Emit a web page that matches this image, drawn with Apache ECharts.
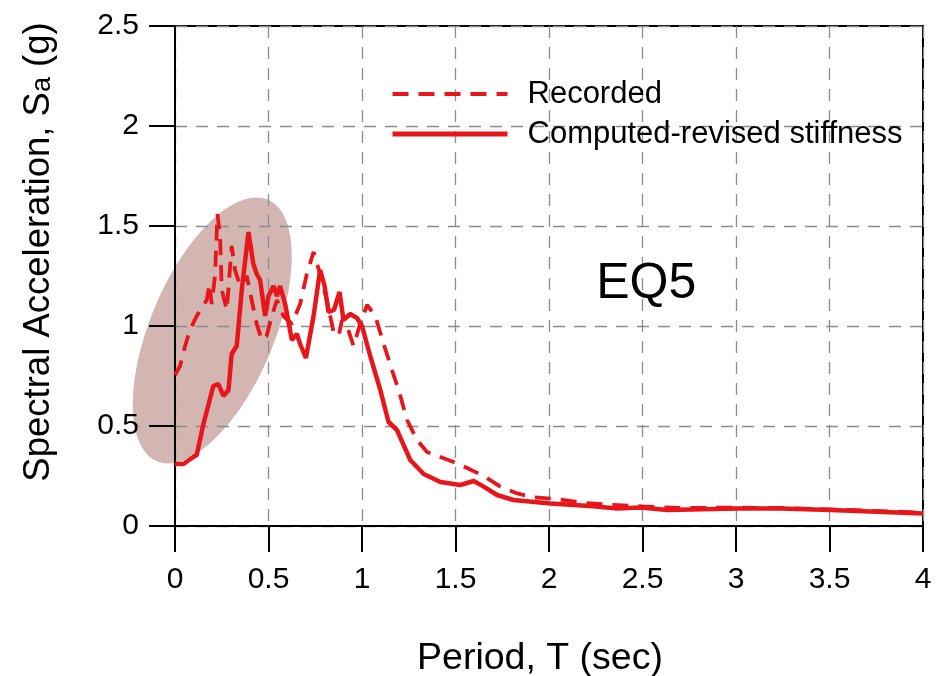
<!DOCTYPE html>
<html>
<head>
<meta charset="utf-8">
<script src="https://cdn.jsdelivr.net/npm/echarts@6/dist/echarts.min.js"></script>
<style>html,body{margin:0;padding:0;background:#fff}#c{width:936px;height:676px}</style>
</head>
<body>
<div id="c"></div>
<script>
// Tick values
var xTicks = [0, 0.5, 1, 1.5, 2, 2.5, 3, 3.5, 4];
var yTicks = [0, 0.5, 1, 1.5, 2, 2.5];

// Recorded (dashed)
var recPeriod = [0, 0.027, 0.054, 0.08, 0.116, 0.143, 0.17, 0.184, 0.196, 0.214, 0.227, 0.241, 0.25, 0.277, 0.303, 0.321, 0.348, 0.384, 0.41, 0.437, 0.464, 0.49, 0.518, 0.545, 0.58, 0.625, 0.669, 0.705, 0.741, 0.776, 0.812, 0.848, 0.875, 0.893, 0.92, 0.955, 0.99, 1.027, 1.071, 1.116, 1.16, 1.196, 1.241, 1.294, 1.348, 1.419, 1.49, 1.562, 1.651, 1.74, 1.83, 1.919, 2.044, 2.169, 2.3, 2.5, 2.7, 3.0, 3.25, 3.5, 4.0];
var recSa = [0.755, 0.80, 0.90, 0.98, 1.05, 1.09, 1.13, 1.21, 1.11, 1.25, 1.56, 1.45, 1.18, 1.08, 1.40, 1.28, 1.20, 1.25, 1.13, 1.01, 0.93, 0.95, 1.05, 1.13, 1.05, 1.01, 1.11, 1.26, 1.37, 1.26, 1.13, 0.97, 0.95, 1.03, 1.00, 0.90, 1.01, 1.105, 1.05, 0.91, 0.78, 0.68, 0.53, 0.43, 0.37, 0.345, 0.32, 0.29, 0.25, 0.197, 0.163, 0.143, 0.135, 0.117, 0.108, 0.098, 0.09, 0.092, 0.09, 0.083, 0.067];

// Computed-revised stiffness (solid)
var compPeriod = [0, 0.045, 0.098, 0.116, 0.152, 0.205, 0.232, 0.259, 0.286, 0.303, 0.33, 0.357, 0.393, 0.419, 0.437, 0.455, 0.482, 0.50, 0.527, 0.545, 0.562, 0.589, 0.625, 0.652, 0.669, 0.70, 0.741, 0.776, 0.80, 0.821, 0.85, 0.88, 0.901, 0.937, 0.973, 1.0, 1.044, 1.098, 1.142, 1.187, 1.258, 1.33, 1.419, 1.526, 1.597, 1.651, 1.722, 1.81, 2.008, 2.22, 2.365, 2.49, 2.633, 2.758, 3.008, 3.24, 3.507, 4.0];
var compSa = [0.31, 0.31, 0.345, 0.355, 0.51, 0.70, 0.71, 0.65, 0.68, 0.86, 0.90, 1.18, 1.47, 1.31, 1.26, 1.23, 1.05, 1.15, 1.20, 1.15, 1.20, 1.11, 0.93, 0.96, 0.91, 0.84, 1.05, 1.28, 1.20, 1.07, 1.08, 1.17, 1.03, 1.06, 1.04, 1.00, 0.85, 0.68, 0.52, 0.48, 0.33, 0.26, 0.22, 0.205, 0.225, 0.197, 0.155, 0.13, 0.113, 0.10, 0.088, 0.093, 0.08, 0.083, 0.088, 0.088, 0.08, 0.063];

// Highlight ellipse centre and annotation position (data coordinates)
var ellipseCenter = [0.20, 0.978];
var eqLabelPos = [2.52, 1.21];

function pairs(xs, ys) { return xs.map(function (x, i) { return [x, ys[i]]; }); }

var FONT = "'Liberation Sans', Arial, sans-serif";
var RED = '#e8151b';
var DASH = [16, 10];
var chart = echarts.init(document.getElementById('c'), null, { renderer: 'canvas' });

var option = {
  animation: false,
  backgroundColor: '#fff',
  textStyle: { fontFamily: FONT, color: '#000' },
  grid: { left: 175, right: 13, top: 26, bottom: 150, containLabel: false, outerBoundsMode: 'none', show: true, borderColor: '#000', borderWidth: 2, backgroundColor: 'transparent' },
  legend: {
    orient: 'vertical', left: 390, top: 78, padding: 0,
    itemWidth: 115, itemHeight: 14, itemGap: 8,
    itemStyle: { opacity: 0 },
    textStyle: { fontFamily: FONT, fontSize: 31, color: '#000', padding: [0, 0, 0, 15], lineHeight: 32 },
    data: [
      { name: 'Recorded', lineStyle: { color: RED, width: 4, type: DASH } },
      { name: 'Computed-revised stiffness', lineStyle: { color: RED, width: 5, type: 'solid' } }
    ]
  },
  xAxis: {
    type: 'value', min: xTicks[0], max: xTicks[xTicks.length - 1], interval: xTicks[1] - xTicks[0],
    name: 'Period, T (sec)', nameLocation: 'middle', nameGap: 114,
    nameTextStyle: { fontFamily: FONT, fontSize: 37.5, color: '#000', padding: [0, 18, 0, 0] },
    axisLine: { lineStyle: { color: '#000', width: 2 } },
    axisTick: { show: true, inside: false, length: 26, lineStyle: { color: '#000', width: 2 } },
    axisLabel: { fontFamily: FONT, fontSize: 30, color: '#000', margin: 39 },
    splitLine: { show: true, lineStyle: { color: '#8c8c8c', width: 1.3, type: [12, 9] } }
  },
  yAxis: {
    type: 'value', min: yTicks[0], max: yTicks[yTicks.length - 1], interval: yTicks[1] - yTicks[0],
    name: 'Spectral Acceleration, S{sub|a} (g)', nameLocation: 'middle', nameGap: 118,
    nameTextStyle: { fontFamily: FONT, fontSize: 36.5, color: '#000', padding: [0, 0, 0, 48], rich: { sub: { fontFamily: FONT, fontSize: 27, color: '#000', padding: [8, 0, 0, 0] } } },
    axisLine: { lineStyle: { color: '#000', width: 2 } },
    axisTick: { show: true, inside: false, length: 26, lineStyle: { color: '#000', width: 2 } },
    axisLabel: { fontFamily: FONT, fontSize: 30, color: '#000', margin: 36, padding: [6, 0, 0, 0] },
    splitLine: { show: true, lineStyle: { color: '#8c8c8c', width: 1.3, type: [12, 9] } }
  },
  series: [
    {
      name: 'Recorded', type: 'line', symbol: 'none', showSymbol: false, z: 3,
      lineStyle: { color: RED, width: 3.8, type: DASH }, itemStyle: { color: RED },
      data: pairs(recPeriod, recSa)
    },
    {
      name: 'Computed-revised stiffness', type: 'line', symbol: 'none', showSymbol: false, z: 4,
      lineStyle: { color: RED, width: 4.5, type: 'solid' }, itemStyle: { color: RED },
      data: pairs(compPeriod, compSa)
    }
  ]
};
chart.setOption(option);

var c = chart.convertToPixel({ gridIndex: 0 }, ellipseCenter);
var eq = chart.convertToPixel({ gridIndex: 0 }, eqLabelPos);
chart.setOption({
  graphic: [
    {
      type: 'ellipse', z: -10, x: c[0], y: c[1], rotation: -0.40, silent: true,
      shape: { cx: 0, cy: 0, rx: 62, ry: 142 },
      style: { fill: 'rgba(150,80,70,0.42)' }
    },
    {
      type: 'text', z: 10, x: eq[0], y: eq[1], silent: true,
      style: { text: 'EQ5', fontFamily: FONT, fontSize: 50, fill: '#000', textAlign: 'center', textVerticalAlign: 'middle' }
    }
  ]
});
</script>
</body>
</html>
